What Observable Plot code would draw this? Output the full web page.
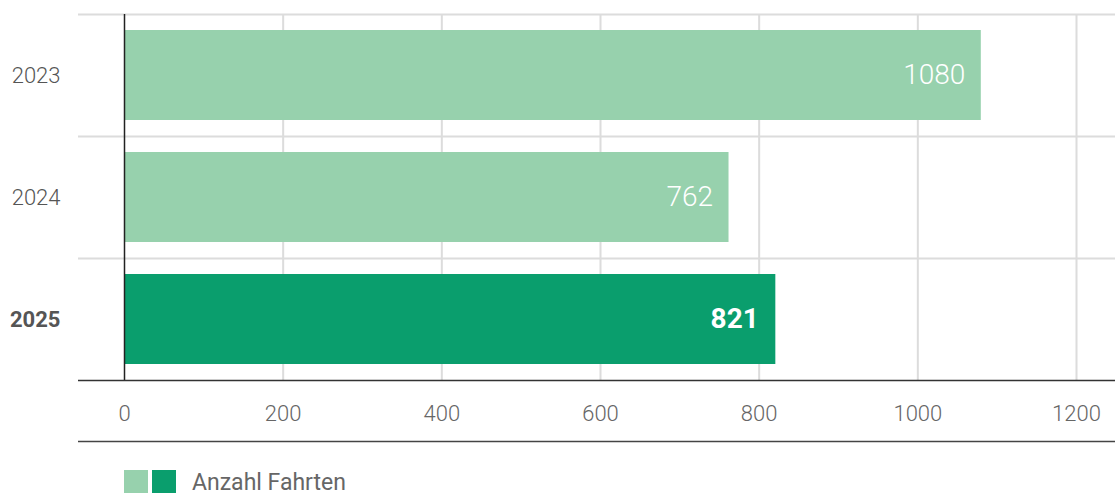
<!DOCTYPE html>
<html>
<head>
<meta charset="utf-8">
<script src="https://cdn.jsdelivr.net/npm/d3@7"></script>
<script src="https://cdn.jsdelivr.net/npm/@observablehq/plot@0.6"></script>
<style>
  html, body { margin: 0; padding: 0; background: #fff; }
  body { width: 1115px; height: 495px; overflow: hidden; font-family: Roboto, "Noto Sans", sans-serif; }
  #chart svg { display: block; }
  .legend { position: relative; height: 50px; }
  .legend .sw { position: absolute; top: 25px; width: 24px; height: 23px; }
  .legend .lbl { position: absolute; left: 192px; top: 23px; font-size: 23px; font-weight: 400; color: #666; line-height: 30px; }
</style>
</head>
<body>
<div id="chart"></div>
<div class="legend">
  <div class="sw" style="left:124px;background:#97d1ad"></div>
  <div class="sw" style="left:152px;background:#0a9e6d"></div>
  <div class="lbl" id="legendLabel"></div>
</div>
<script>
const years = ["2023", "2024", "2025"];
const fahrten = [1080, 762, 821];
const currentYear = "2025";
const xTicks = [0, 200, 400, 600, 800, 1000, 1200];
const seriesName = "Anzahl Fahrten";

const data = years.map((y, i) => ({year: y, value: fahrten[i], current: y === currentYear}));
const light = "#97d1ad", dark = "#0a9e6d";

const chart = Plot.plot({
  width: 1115,
  height: 445,
  marginTop: 14,
  marginBottom: 65,
  marginLeft: 78,
  marginRight: 0,
  style: {fontFamily: "Roboto, 'Noto Sans', sans-serif", background: "#fff"},
  x: {domain: [0, 1200], range: [124, 1076], ticks: xTicks, label: null},
  y: {domain: years, padding: 0, label: null},
  marks: [
    Plot.ruleX(xTicks.filter(d => d !== 0), {stroke: "#dcdcdc", strokeWidth: 2, strokeOpacity: 1}),
    Plot.ruleY(years, {y: d => d, dy: -61, stroke: "#dcdcdc", strokeWidth: 2}),
    Plot.barX(data, {y: "year", x: "value", fill: d => d.current ? dark : light, insetTop: 16, insetBottom: 16}),
    Plot.ruleX([0], {stroke: "#222", strokeWidth: 1.5}),
    Plot.ruleY([currentYear], {y: d => d, dy: 61, stroke: "#333", strokeWidth: 1.5}),
    Plot.ruleY([currentYear], {y: d => d, dy: 122, stroke: "#444", strokeWidth: 1.5}),
    Plot.text(data.filter(d => !d.current), {y: "year", x: "value", text: d => String(d.value), textAnchor: "end", dx: -16, fill: "#fff", fontSize: 28, fontWeight: 300}),
    Plot.text(data.filter(d => d.current), {y: "year", x: "value", text: d => String(d.value), textAnchor: "end", dx: -17, fill: "#fff", fontSize: 28, fontWeight: 700}),
    Plot.text(data.filter(d => !d.current), {y: "year", text: "year", frameAnchor: "left", textAnchor: "end", dx: -18, fill: "#555", fontSize: 22, fontWeight: 300}),
    Plot.text(data.filter(d => d.current), {y: "year", text: "year", frameAnchor: "left", textAnchor: "end", dx: -18, fill: "#555", fontSize: 22, fontWeight: 700}),
    Plot.axisX({ticks: xTicks, tickFormat: d => String(d), tickSize: 0, tickPadding: 25, fontSize: 22, fontWeight: 300, fill: "#666", label: null}),
    Plot.axisY({ticks: [], label: null})
  ]
});
document.getElementById("chart").appendChild(chart);
document.getElementById("legendLabel").textContent = seriesName;
</script>
</body>
</html>
